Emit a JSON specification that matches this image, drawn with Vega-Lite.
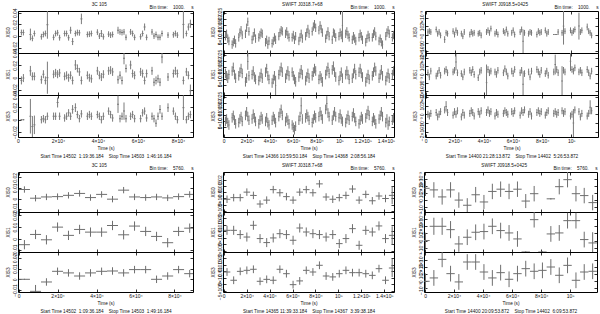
{
"$schema":"https://vega.github.io/schema/vega-lite/v6.json",
"padding":{"left":4,"top":2,"right":0,"bottom":0},
"background":"white",
"config":{
"font":"Liberation Sans",
"view":{"stroke":"#000","strokeWidth":1},
"axis":{"grid":false,"domain":false,"tickColor":"#000","tickSize":-3,"tickWidth":0.8,"labelFontSize":5,"labelColor":"#111","labelPadding":4,"titleFontSize":4.7,"titleFontWeight":"normal","titleColor":"#111","titlePadding":2,"labelOverlap":false,"labelFlush":false},
"axisY":{"labelAngle":-90,"labelAlign":"center","labelBaseline":"bottom"},
"title":{"fontSize":4.7,"fontWeight":"normal","color":"#111","offset":-3,"anchor":"middle"}
},
"datasets":{
"a0":[{"t":1.7,"y":0.0061,"e":0.005},{"t":2.7,"y":0.0061,"e":0.005},{"t":6.2,"y":0.0028,"e":0.01},{"t":7.2,"y":-0.0039,"e":0.005},{"t":8.2,"y":0.0044,"e":0.005},{"t":11.7,"y":-0.0011,"e":0.005},{"t":12.7,"y":0.0028,"e":0.005},{"t":13.7,"y":0.0044,"e":0.005},{"t":14.7,"y":0.0195,"e":0.024},{"t":17.8,"y":-0.0022,"e":0.005},{"t":18.8,"y":0.0044,"e":0.005},{"t":19.8,"y":0.0056,"e":0.005},{"t":20.8,"y":-0.0028,"e":0.005},{"t":23.3,"y":0.0044,"e":0.005},{"t":24.3,"y":0.0044,"e":0.005},{"t":25.3,"y":-0.0028,"e":0.005},{"t":26.3,"y":0.01,"e":0.006},{"t":27.3,"y":-0.0094,"e":0.006},{"t":28.7,"y":0.0044,"e":0.005},{"t":29.7,"y":0.0061,"e":0.005},{"t":30.7,"y":0.0056,"e":0.005},{"t":31.7,"y":0.0295,"e":0.009},{"t":34.7,"y":0.0028,"e":0.005},{"t":35.7,"y":0.0033,"e":0.005},{"t":36.7,"y":0.0044,"e":0.005},{"t":39.7,"y":0.0067,"e":0.005},{"t":40.7,"y":0,"e":0.005},{"t":41.7,"y":0.0044,"e":0.006},{"t":42.7,"y":-0.0011,"e":0.005},{"t":45.3,"y":0.0033,"e":0.005},{"t":46.3,"y":0.0017,"e":0.005},{"t":47.3,"y":0.0028,"e":0.005},{"t":50,"y":0.01,"e":0.006},{"t":51,"y":0.0072,"e":0.005},{"t":52,"y":0.0061,"e":0.005},{"t":53,"y":0.0072,"e":0.005},{"t":54,"y":-0.0022,"e":0.005},{"t":56.3,"y":0.0072,"e":0.005},{"t":57.3,"y":0.0044,"e":0.005},{"t":58.3,"y":-0.0022,"e":0.005},{"t":61.3,"y":-0.0011,"e":0.005},{"t":62.3,"y":0.0044,"e":0.005},{"t":63.3,"y":0.0156,"e":0.006},{"t":64.3,"y":-0.0022,"e":0.005},{"t":67,"y":0.0072,"e":0.005},{"t":68,"y":0,"e":0.005},{"t":69,"y":0.0028,"e":0.005},{"t":70,"y":-0.0022,"e":0.005},{"t":71,"y":-0.0022,"e":0.005},{"t":72,"y":0.0044,"e":0.005},{"t":75,"y":0.0017,"e":0.005},{"t":77.7,"y":0.0022,"e":0.005},{"t":78.7,"y":0.0044,"e":0.005},{"t":79.7,"y":0.0017,"e":0.005},{"t":82.7,"y":0.02,"e":0.024},{"t":84.2,"y":0.0044,"e":0.005},{"t":85.2,"y":0.0156,"e":0.006},{"t":86.2,"y":0.0211,"e":0.007}],
"a1":[{"t":1.7,"y":-0.0044,"e":0.0065},{"t":2.7,"y":-0.0006,"e":0.0065},{"t":6.2,"y":0.0111,"e":0.008},{"t":7.2,"y":0.0022,"e":0.0065},{"t":8.2,"y":0.0022,"e":0.0065},{"t":11.7,"y":-0.0033,"e":0.0065},{"t":12.7,"y":0.0056,"e":0.0065},{"t":13.7,"y":-0.0044,"e":0.0065},{"t":14.7,"y":0,"e":0.026},{"t":17.8,"y":0.0056,"e":0.0065},{"t":18.8,"y":0.0078,"e":0.0065},{"t":19.8,"y":0.0056,"e":0.0065},{"t":20.8,"y":0.0078,"e":0.0065},{"t":23.3,"y":0.0022,"e":0.0065},{"t":24.3,"y":0.0039,"e":0.0065},{"t":25.3,"y":0,"e":0.0065},{"t":26.3,"y":0.0039,"e":0.0065},{"t":27.3,"y":-0.0044,"e":0.0065},{"t":28.7,"y":0.0206,"e":0.008},{"t":29.7,"y":0.015,"e":0.0065},{"t":30.7,"y":0.0094,"e":0.0065},{"t":31.7,"y":-0.0044,"e":0.0065},{"t":34.7,"y":0.0039,"e":0.0065},{"t":35.7,"y":0,"e":0.0065},{"t":36.7,"y":-0.0017,"e":0.0065},{"t":39.7,"y":0.0111,"e":0.0065},{"t":40.7,"y":0.0039,"e":0.0065},{"t":41.7,"y":0.0011,"e":0.0065},{"t":42.7,"y":0.0056,"e":0.0065},{"t":45.3,"y":0.0111,"e":0.0065},{"t":46.3,"y":0.0122,"e":0.0065},{"t":47.3,"y":0.0094,"e":0.0065},{"t":50,"y":-0.0033,"e":0.0065},{"t":51,"y":0.0039,"e":0.0065},{"t":52,"y":-0.0044,"e":0.0065},{"t":53,"y":0.0317,"e":0.01},{"t":54,"y":0.015,"e":0.0065},{"t":56.3,"y":0.0206,"e":0.007},{"t":57.3,"y":0.0067,"e":0.0065},{"t":58.3,"y":0.0039,"e":0.0065},{"t":61.3,"y":0.0094,"e":0.0065},{"t":62.3,"y":0.0067,"e":0.0065},{"t":63.3,"y":-0.0044,"e":0.0065},{"t":64.3,"y":0.0067,"e":0.0065},{"t":67,"y":0.0111,"e":0.0065},{"t":68,"y":-0.0072,"e":0.0065},{"t":69,"y":-0.0044,"e":0.0065},{"t":70,"y":-0.0017,"e":0.0065},{"t":71,"y":-0.0072,"e":0.0065},{"t":72,"y":0.0334,"e":0.01},{"t":75,"y":0.0011,"e":0.0065},{"t":77.7,"y":0.0067,"e":0.0065},{"t":78.7,"y":0.0111,"e":0.0065},{"t":79.7,"y":0.0067,"e":0.0065},{"t":82.7,"y":-0.0044,"e":0.0065},{"t":84.2,"y":0.0094,"e":0.0065},{"t":85.2,"y":0.0039,"e":0.0065},{"t":86.2,"y":-0.0211,"e":0.01}],
"a3":[{"t":1.7,"y":0,"e":0.001},{"t":2.7,"y":0,"e":0.001},{"t":6.2,"y":0.0056,"e":0.028},{"t":7.2,"y":-0.0111,"e":0.017},{"t":8.2,"y":-0.0083,"e":0.015},{"t":11.7,"y":0,"e":0.006},{"t":12.7,"y":0.0017,"e":0.006},{"t":13.7,"y":0,"e":0.006},{"t":14.7,"y":0.0056,"e":0.006},{"t":17.8,"y":0.0056,"e":0.006},{"t":18.8,"y":0.0056,"e":0.006},{"t":19.8,"y":0.0278,"e":0.008},{"t":20.8,"y":0.0056,"e":0.006},{"t":23.3,"y":0.0028,"e":0.006},{"t":24.3,"y":0.0056,"e":0.006},{"t":25.3,"y":0.0111,"e":0.006},{"t":26.3,"y":0.0056,"e":0.006},{"t":27.3,"y":0.0167,"e":0.007},{"t":28.7,"y":0.0195,"e":0.007},{"t":29.7,"y":0.0083,"e":0.006},{"t":30.7,"y":0.0017,"e":0.006},{"t":31.7,"y":0.0095,"e":0.006},{"t":34.7,"y":0.0056,"e":0.006},{"t":35.7,"y":0.0083,"e":0.006},{"t":36.7,"y":0.0056,"e":0.006},{"t":39.7,"y":0.0083,"e":0.006},{"t":40.7,"y":0.0056,"e":0.006},{"t":41.7,"y":0,"e":0.006},{"t":42.7,"y":0.0056,"e":0.006},{"t":45.3,"y":0.0139,"e":0.006},{"t":46.3,"y":0.0083,"e":0.006},{"t":47.3,"y":0.0028,"e":0.006},{"t":50,"y":0.025,"e":0.014},{"t":51,"y":0.0017,"e":0.006},{"t":52,"y":0.0056,"e":0.006},{"t":53,"y":0.0139,"e":0.014},{"t":54,"y":0.0017,"e":0.006},{"t":56.3,"y":0.0056,"e":0.006},{"t":57.3,"y":0.0083,"e":0.006},{"t":58.3,"y":0.0017,"e":0.006},{"t":61.3,"y":0.0017,"e":0.006},{"t":62.3,"y":0.0111,"e":0.006},{"t":63.3,"y":0.0139,"e":0.006},{"t":64.3,"y":0.0028,"e":0.006},{"t":67,"y":0.0056,"e":0.006},{"t":68,"y":0.0017,"e":0.006},{"t":69,"y":-0.0056,"e":0.006},{"t":70,"y":0.0056,"e":0.006},{"t":71,"y":0.0167,"e":0.007},{"t":72,"y":0.0056,"e":0.006},{"t":75,"y":0.0195,"e":0.007},{"t":77.7,"y":0.0139,"e":0.006},{"t":78.7,"y":0.0056,"e":0.006},{"t":79.7,"y":0,"e":0.006},{"t":82.7,"y":0.0195,"e":0.02},{"t":84.2,"y":0,"e":0.006},{"t":85.2,"y":0.0056,"e":0.006},{"t":86.2,"y":0.0083,"e":0.006}],
"b0":[{"t":1.5,"y":0.006,"e":0.0035},{"t":2.5,"y":0.008,"e":0.0035},{"t":3.5,"y":0.004,"e":0.0035},{"t":4.5,"y":0.002,"e":0.0035},{"t":7.3,"y":-0.001,"e":0.0035},{"t":8.3,"y":0.001,"e":0.0035},{"t":9.3,"y":0.003,"e":0.0035},{"t":10.3,"y":0,"e":0.0035},{"t":13,"y":0.005,"e":0.0035},{"t":14,"y":0.009,"e":0.0035},{"t":15,"y":0.011,"e":0.0035},{"t":16,"y":0.007,"e":0.0035},{"t":18.8,"y":0.008,"e":0.0035},{"t":19.8,"y":0.013,"e":0.0035},{"t":20.8,"y":0.018,"e":0.0035},{"t":21.8,"y":0.01,"e":0.0035},{"t":24.5,"y":0.003,"e":0.0035},{"t":25.5,"y":0.006,"e":0.0035},{"t":26.5,"y":0.009,"e":0.0035},{"t":27.5,"y":0.004,"e":0.0035},{"t":30.3,"y":0.005,"e":0.0035},{"t":31.3,"y":0.007,"e":0.0035},{"t":32.3,"y":0.009,"e":0.0035},{"t":33.3,"y":0.008,"e":0.0035},{"t":36.1,"y":0.001,"e":0.0035},{"t":37.1,"y":0.003,"e":0.0035},{"t":38.1,"y":-0.001,"e":0.0035},{"t":39.1,"y":0.002,"e":0.0035},{"t":41.8,"y":0,"e":0.0035},{"t":42.8,"y":0.002,"e":0.0035},{"t":43.8,"y":0.005,"e":0.0035},{"t":44.8,"y":0.003,"e":0.0035},{"t":47.6,"y":0.006,"e":0.0035},{"t":48.6,"y":0.009,"e":0.0035},{"t":49.6,"y":0.011,"e":0.0035},{"t":50.6,"y":0.01,"e":0.0035},{"t":53.4,"y":0.008,"e":0.0035},{"t":54.4,"y":0.01,"e":0.0035},{"t":55.4,"y":0.007,"e":0.0035},{"t":56.4,"y":0.005,"e":0.0035},{"t":59.1,"y":0.005,"e":0.0035},{"t":60.1,"y":0.007,"e":0.0035},{"t":61.1,"y":0.003,"e":0.0035},{"t":62.1,"y":0.006,"e":0.0035},{"t":64.9,"y":0.002,"e":0.0035},{"t":65.9,"y":0.005,"e":0.0035},{"t":66.9,"y":0.008,"e":0.0035},{"t":67.9,"y":0.004,"e":0.0035},{"t":70.7,"y":0.006,"e":0.0035},{"t":71.7,"y":0.009,"e":0.0035},{"t":72.7,"y":0.012,"e":0.0035},{"t":73.7,"y":0.008,"e":0.0035},{"t":76.4,"y":0.01,"e":0.0035},{"t":77.4,"y":0.014,"e":0.0035},{"t":78.4,"y":0.016,"e":0.0035},{"t":79.4,"y":0.013,"e":0.0035},{"t":82.2,"y":0.011,"e":0.0035},{"t":83.2,"y":0.015,"e":0.0035},{"t":84.2,"y":0.012,"e":0.0035},{"t":85.2,"y":0.009,"e":0.0035},{"t":88,"y":0.004,"e":0.0035},{"t":89,"y":0.007,"e":0.0035},{"t":90,"y":0.01,"e":0.0035},{"t":91,"y":0.006,"e":0.0035},{"t":93.7,"y":0.003,"e":0.0035},{"t":94.7,"y":0.009,"e":0.0035},{"t":95.7,"y":0.008,"e":0.0035},{"t":96.7,"y":0.005,"e":0.0035},{"t":99.5,"y":0.006,"e":0.0035},{"t":100.5,"y":0.009,"e":0.0035},{"t":101.5,"y":0.007,"e":0.0035},{"t":102.5,"y":0.015,"e":0.014},{"t":105.3,"y":0.008,"e":0.0035},{"t":106.3,"y":0.01,"e":0.0035},{"t":107.3,"y":0.007,"e":0.0035},{"t":108.3,"y":0.005,"e":0.0035},{"t":111,"y":0.003,"e":0.0035},{"t":112,"y":0.006,"e":0.0035},{"t":113,"y":0.004,"e":0.0035},{"t":114,"y":0.002,"e":0.0035},{"t":116.8,"y":0.005,"e":0.0035},{"t":117.8,"y":0.008,"e":0.0035},{"t":118.8,"y":0.006,"e":0.0035},{"t":119.8,"y":0.003,"e":0.0035},{"t":122.6,"y":0.001,"e":0.0035},{"t":123.6,"y":0.004,"e":0.0035},{"t":124.6,"y":0.007,"e":0.0035},{"t":125.6,"y":0.005,"e":0.0035},{"t":128.3,"y":0.005,"e":0.0035},{"t":129.3,"y":0.008,"e":0.0035},{"t":130.3,"y":0.01,"e":0.0035},{"t":131.3,"y":0.006,"e":0.0035},{"t":134.1,"y":0.002,"e":0.0035},{"t":135.1,"y":0.004,"e":0.0035},{"t":136.1,"y":0.001,"e":0.0035},{"t":137.1,"y":-0.001,"e":0.0035},{"t":139.9,"y":0.006,"e":0.0035},{"t":140.9,"y":0.009,"e":0.0035},{"t":141.9,"y":0.011,"e":0.0035},{"t":142.9,"y":0.008,"e":0.0035},{"t":145.6,"y":0.005,"e":0.0035},{"t":146.6,"y":0.007,"e":0.0035}],
"b1":[{"t":1.5,"y":0.01,"e":0.004},{"t":2.5,"y":0.008,"e":0.004},{"t":3.5,"y":0.006,"e":0.004},{"t":4.5,"y":0.009,"e":0.004},{"t":7.3,"y":0.012,"e":0.004},{"t":8.3,"y":0.015,"e":0.004},{"t":9.3,"y":0.009,"e":0.004},{"t":10.3,"y":0.006,"e":0.004},{"t":13,"y":0.008,"e":0.004},{"t":14,"y":0.011,"e":0.004},{"t":15,"y":0.014,"e":0.004},{"t":16,"y":0.01,"e":0.004},{"t":18.8,"y":0.003,"e":0.004},{"t":19.8,"y":0.006,"e":0.004},{"t":20.8,"y":0.02,"e":0.007},{"t":21.8,"y":0.008,"e":0.004},{"t":24.5,"y":0.009,"e":0.004},{"t":25.5,"y":0.012,"e":0.004},{"t":26.5,"y":0.007,"e":0.004},{"t":27.5,"y":0.005,"e":0.004},{"t":30.3,"y":0.004,"e":0.004},{"t":31.3,"y":0.007,"e":0.004},{"t":32.3,"y":0.01,"e":0.004},{"t":33.3,"y":0.006,"e":0.004},{"t":36.1,"y":0.011,"e":0.004},{"t":37.1,"y":0.014,"e":0.004},{"t":38.1,"y":0.008,"e":0.004},{"t":39.1,"y":0.005,"e":0.004},{"t":41.8,"y":0.002,"e":0.004},{"t":42.8,"y":0.005,"e":0.004},{"t":43.8,"y":0.008,"e":0.004},{"t":44.8,"y":0,"e":0.008},{"t":47.6,"y":0.009,"e":0.004},{"t":48.6,"y":0.012,"e":0.004},{"t":49.6,"y":0.015,"e":0.004},{"t":50.6,"y":0.011,"e":0.004},{"t":53.4,"y":0.006,"e":0.004},{"t":54.4,"y":0.009,"e":0.004},{"t":55.4,"y":0.012,"e":0.004},{"t":56.4,"y":0.008,"e":0.004},{"t":59.1,"y":0.011,"e":0.004},{"t":60.1,"y":0.008,"e":0.004},{"t":61.1,"y":0.005,"e":0.004},{"t":62.1,"y":0.003,"e":0.004},{"t":64.9,"y":0.007,"e":0.004},{"t":65.9,"y":0.01,"e":0.004},{"t":66.9,"y":0.013,"e":0.004},{"t":67.9,"y":0.009,"e":0.004},{"t":70.7,"y":0.004,"e":0.004},{"t":71.7,"y":0.007,"e":0.004},{"t":72.7,"y":0.01,"e":0.004},{"t":73.7,"y":0.006,"e":0.004},{"t":76.4,"y":0.008,"e":0.004},{"t":77.4,"y":0.011,"e":0.004},{"t":78.4,"y":0.014,"e":0.004},{"t":79.4,"y":0.012,"e":0.004},{"t":82.2,"y":0.005,"e":0.004},{"t":83.2,"y":0.008,"e":0.004},{"t":84.2,"y":0.006,"e":0.004},{"t":85.2,"y":0.003,"e":0.004},{"t":88,"y":0.009,"e":0.004},{"t":89,"y":0.012,"e":0.004},{"t":90,"y":0.015,"e":0.004},{"t":91,"y":0.01,"e":0.004},{"t":93.7,"y":0.013,"e":0.004},{"t":94.7,"y":0.016,"e":0.004},{"t":95.7,"y":0.011,"e":0.004},{"t":96.7,"y":0.007,"e":0.004},{"t":99.5,"y":0.004,"e":0.004},{"t":100.5,"y":0.008,"e":0.004},{"t":101.5,"y":0.011,"e":0.004},{"t":102.5,"y":0.006,"e":0.004},{"t":105.3,"y":0.009,"e":0.004},{"t":106.3,"y":0.012,"e":0.004},{"t":107.3,"y":0.009,"e":0.004},{"t":108.3,"y":0.005,"e":0.004},{"t":111,"y":0.006,"e":0.004},{"t":112,"y":0.01,"e":0.004},{"t":113,"y":0.014,"e":0.004},{"t":114,"y":0.009,"e":0.004},{"t":116.8,"y":0.011,"e":0.004},{"t":117.8,"y":0.014,"e":0.004},{"t":118.8,"y":0.01,"e":0.004},{"t":119.8,"y":0.007,"e":0.004},{"t":122.6,"y":0.003,"e":0.004},{"t":123.6,"y":0.006,"e":0.004},{"t":124.6,"y":0.009,"e":0.004},{"t":125.6,"y":0.005,"e":0.004},{"t":128.3,"y":0.008,"e":0.004},{"t":129.3,"y":0.011,"e":0.004},{"t":130.3,"y":0.015,"e":0.004},{"t":131.3,"y":0.012,"e":0.004},{"t":134.1,"y":0.006,"e":0.004},{"t":135.1,"y":0.009,"e":0.004},{"t":136.1,"y":0.013,"e":0.004},{"t":137.1,"y":0.008,"e":0.004},{"t":139.9,"y":0.004,"e":0.004},{"t":140.9,"y":0.007,"e":0.004},{"t":141.9,"y":0.01,"e":0.004},{"t":142.9,"y":0.006,"e":0.004},{"t":145.6,"y":0.009,"e":0.004},{"t":146.6,"y":0.012,"e":0.004}],
"b3":[{"t":1.5,"y":0.005,"e":0.004},{"t":2.5,"y":0.007,"e":0.004},{"t":3.5,"y":0.004,"e":0.004},{"t":4.5,"y":0.002,"e":0.004},{"t":7.3,"y":0.008,"e":0.004},{"t":8.3,"y":0.01,"e":0.004},{"t":9.3,"y":0.006,"e":0.004},{"t":10.3,"y":0.003,"e":0.004},{"t":13,"y":0.004,"e":0.004},{"t":14,"y":0.007,"e":0.004},{"t":15,"y":0.009,"e":0.004},{"t":16,"y":0.005,"e":0.004},{"t":18.8,"y":0.01,"e":0.004},{"t":19.8,"y":0.013,"e":0.004},{"t":20.8,"y":0.009,"e":0.004},{"t":21.8,"y":0.006,"e":0.004},{"t":24.5,"y":0.007,"e":0.004},{"t":25.5,"y":0.011,"e":0.004},{"t":26.5,"y":0.008,"e":0.004},{"t":27.5,"y":0.005,"e":0.004},{"t":30.3,"y":0.003,"e":0.004},{"t":31.3,"y":0.006,"e":0.004},{"t":32.3,"y":0.009,"e":0.004},{"t":33.3,"y":0.007,"e":0.004},{"t":36.1,"y":0.005,"e":0.004},{"t":37.1,"y":0.008,"e":0.004},{"t":38.1,"y":0.004,"e":0.004},{"t":39.1,"y":0.002,"e":0.004},{"t":41.8,"y":0.006,"e":0.004},{"t":42.8,"y":0.009,"e":0.004},{"t":43.8,"y":0.007,"e":0.004},{"t":44.8,"y":0.004,"e":0.004},{"t":47.6,"y":0.009,"e":0.004},{"t":48.6,"y":0.012,"e":0.004},{"t":49.6,"y":0.015,"e":0.004},{"t":50.6,"y":0.01,"e":0.004},{"t":53.4,"y":0.005,"e":0.004},{"t":54.4,"y":0.008,"e":0.004},{"t":55.4,"y":0.006,"e":0.004},{"t":56.4,"y":0.003,"e":0.004},{"t":59.1,"y":0.002,"e":0.004},{"t":60.1,"y":0,"e":0.004},{"t":61.1,"y":-0.002,"e":0.004},{"t":62.1,"y":0.001,"e":0.004},{"t":64.9,"y":0.006,"e":0.004},{"t":65.9,"y":0.009,"e":0.004},{"t":66.9,"y":0.018,"e":0.007},{"t":67.9,"y":0.007,"e":0.004},{"t":70.7,"y":0.008,"e":0.004},{"t":71.7,"y":0.011,"e":0.004},{"t":72.7,"y":0.009,"e":0.004},{"t":73.7,"y":0.006,"e":0.004},{"t":76.4,"y":0.004,"e":0.004},{"t":77.4,"y":0.007,"e":0.004},{"t":78.4,"y":0.01,"e":0.004},{"t":79.4,"y":0.008,"e":0.004},{"t":82.2,"y":0.009,"e":0.004},{"t":83.2,"y":0.013,"e":0.004},{"t":84.2,"y":0.01,"e":0.004},{"t":85.2,"y":0.007,"e":0.004},{"t":88,"y":0.015,"e":0.004},{"t":89,"y":0.02,"e":0.006},{"t":90,"y":0.012,"e":0.004},{"t":91,"y":0.009,"e":0.004},{"t":93.7,"y":0.006,"e":0.004},{"t":94.7,"y":0.01,"e":0.004},{"t":95.7,"y":0.013,"e":0.004},{"t":96.7,"y":0.009,"e":0.004},{"t":99.5,"y":0.008,"e":0.004},{"t":100.5,"y":0.011,"e":0.004},{"t":101.5,"y":0.007,"e":0.004},{"t":102.5,"y":0.005,"e":0.004},{"t":105.3,"y":0.004,"e":0.004},{"t":106.3,"y":0.007,"e":0.004},{"t":107.3,"y":0.01,"e":0.004},{"t":108.3,"y":0.006,"e":0.004},{"t":111,"y":0.009,"e":0.004},{"t":112,"y":0.012,"e":0.004},{"t":113,"y":0.008,"e":0.004},{"t":114,"y":0.005,"e":0.004},{"t":116.8,"y":0.003,"e":0.004},{"t":117.8,"y":0.006,"e":0.004},{"t":118.8,"y":0.009,"e":0.004},{"t":119.8,"y":0.007,"e":0.004},{"t":122.6,"y":0.008,"e":0.004},{"t":123.6,"y":0.011,"e":0.004},{"t":124.6,"y":0.014,"e":0.004},{"t":125.6,"y":0.01,"e":0.004},{"t":128.3,"y":0.005,"e":0.004},{"t":129.3,"y":0.008,"e":0.004},{"t":130.3,"y":0.006,"e":0.004},{"t":131.3,"y":0.003,"e":0.004},{"t":134.1,"y":0.007,"e":0.004},{"t":135.1,"y":0.01,"e":0.004},{"t":136.1,"y":0.013,"e":0.004},{"t":137.1,"y":0.009,"e":0.004},{"t":139.9,"y":0.004,"e":0.004},{"t":140.9,"y":0.007,"e":0.004},{"t":141.9,"y":0.002,"e":0.004},{"t":142.9,"y":0.005,"e":0.004},{"t":145.6,"y":0.006,"e":0.004},{"t":146.6,"y":0.008,"e":0.004}],
"c0":[{"t":1.5,"y":0.0003,"e":0.00035},{"t":2.5,"y":0.0004,"e":0.00035},{"t":3.5,"y":0.0003,"e":0.00035},{"t":7.2,"y":0.0006,"e":0.00035},{"t":8.2,"y":0.0001,"e":0.00035},{"t":9.2,"y":0.0003,"e":0.00035},{"t":10.2,"y":-0.0001,"e":0.00035},{"t":13,"y":-0.0006,"e":0.0004},{"t":14,"y":0.0002,"e":0.00035},{"t":15,"y":0.0001,"e":0.00035},{"t":18.8,"y":0.0004,"e":0.00035},{"t":19.8,"y":0,"e":0.00035},{"t":20.8,"y":0.0005,"e":0.00035},{"t":21.8,"y":0.0002,"e":0.00035},{"t":24.5,"y":0.0001,"e":0.00035},{"t":25.5,"y":-0.0002,"e":0.00035},{"t":26.5,"y":0.0003,"e":0.00035},{"t":30.3,"y":0,"e":0.00035},{"t":31.3,"y":0.0003,"e":0.00035},{"t":32.3,"y":0.0001,"e":0.00035},{"t":33.3,"y":0.0002,"e":0.00035},{"t":36.1,"y":0.0001,"e":0.00035},{"t":37.1,"y":0.0002,"e":0.00035},{"t":38.1,"y":-0.0001,"e":0.00035},{"t":41.8,"y":0.0003,"e":0.00035},{"t":42.8,"y":0.0005,"e":0.00035},{"t":43.8,"y":0.0002,"e":0.00035},{"t":44.8,"y":0.0007,"e":0.00035},{"t":47.6,"y":0.0001,"e":0.00035},{"t":48.6,"y":0.0003,"e":0.00035},{"t":49.6,"y":0,"e":0.00035},{"t":53.4,"y":0.0004,"e":0.00035},{"t":54.4,"y":0.0002,"e":0.00035},{"t":55.4,"y":0.0006,"e":0.00035},{"t":56.4,"y":0.0001,"e":0.00035},{"t":59.1,"y":0.0002,"e":0.00035},{"t":60.1,"y":0.0005,"e":0.00035},{"t":61.1,"y":0,"e":0.00035},{"t":64.9,"y":0.0003,"e":0.00035},{"t":65.9,"y":0.0006,"e":0.00035},{"t":66.9,"y":-0.0008,"e":0.0014},{"t":67.9,"y":0.0002,"e":0.00035},{"t":70.7,"y":0.0001,"e":0.00035},{"t":71.7,"y":0.0003,"e":0.00035},{"t":72.7,"y":0.0002,"e":0.00035},{"t":76.4,"y":0,"e":0.00035},{"t":77.4,"y":0.0004,"e":0.00035},{"t":78.4,"y":0.0002,"e":0.00035},{"t":79.4,"y":0.0003,"e":0.00035},{"t":82.2,"y":0.0005,"e":0.00035},{"t":83.2,"y":0.0001,"e":0.00035},{"t":84.2,"y":0.0003,"e":0.00035},{"t":88,"y":0,"e":0.00002},{"t":89,"y":0,"e":0.00002},{"t":90,"y":0,"e":0.00002},{"t":91,"y":0.0003,"e":0.00035},{"t":93.7,"y":0.0002,"e":0.00035},{"t":94.7,"y":0.001,"e":0.0022},{"t":95.7,"y":0.0004,"e":0.00035},{"t":99.5,"y":0.0005,"e":0.00035},{"t":100.5,"y":0.0002,"e":0.00035},{"t":101.5,"y":0.0004,"e":0.00035},{"t":102.5,"y":0.0006,"e":0.00035},{"t":105.3,"y":0.001,"e":0.0016},{"t":106.3,"y":0.0003,"e":0.00035},{"t":107.3,"y":0.0005,"e":0.00035},{"t":111,"y":0.0009,"e":0.0004},{"t":112,"y":0.0004,"e":0.00035},{"t":113,"y":0.0002,"e":0.00035},{"t":114,"y":-0.0001,"e":0.00035}],
"c1":[{"t":1.5,"y":0.0002,"e":0.0004},{"t":2.5,"y":-0.0003,"e":0.0004},{"t":3.5,"y":0.0004,"e":0.0004},{"t":7.2,"y":-0.0002,"e":0.0004},{"t":8.2,"y":0.0001,"e":0.0004},{"t":9.2,"y":0.0005,"e":0.0004},{"t":10.2,"y":-0.0001,"e":0.0004},{"t":13,"y":0.0004,"e":0.0004},{"t":14,"y":0.0006,"e":0.0004},{"t":15,"y":0.0002,"e":0.0004},{"t":18.8,"y":0.0003,"e":0.0004},{"t":19.8,"y":0.0005,"e":0.0004},{"t":20.8,"y":0.0015,"e":0.001},{"t":21.8,"y":0.0002,"e":0.0004},{"t":24.5,"y":0.0001,"e":0.0004},{"t":25.5,"y":-0.0003,"e":0.0004},{"t":26.5,"y":0.0003,"e":0.0004},{"t":30.3,"y":0.0005,"e":0.0004},{"t":31.3,"y":0.0002,"e":0.0004},{"t":32.3,"y":0.0006,"e":0.0004},{"t":33.3,"y":0,"e":0.0004},{"t":36.1,"y":-0.0004,"e":0.0004},{"t":37.1,"y":0.0003,"e":0.0004},{"t":38.1,"y":0.0005,"e":0.0004},{"t":41.8,"y":-0.001,"e":0.0022},{"t":42.8,"y":0.0006,"e":0.0004},{"t":43.8,"y":0.0002,"e":0.0004},{"t":44.8,"y":0.0004,"e":0.0004},{"t":47.6,"y":0.0003,"e":0.0004},{"t":48.6,"y":0,"e":0.0004},{"t":49.6,"y":0.0005,"e":0.0004},{"t":53.4,"y":0.0002,"e":0.0004},{"t":54.4,"y":0.0007,"e":0.0004},{"t":55.4,"y":0.0003,"e":0.0004},{"t":56.4,"y":-0.0002,"e":0.0004},{"t":59.1,"y":0.0004,"e":0.0004},{"t":60.1,"y":0.0001,"e":0.0004},{"t":61.1,"y":0.0006,"e":0.0004},{"t":64.9,"y":0.0002,"e":0.0004},{"t":65.9,"y":0.0005,"e":0.0004},{"t":66.9,"y":-0.0012,"e":0.0016},{"t":67.9,"y":0.0001,"e":0.0004},{"t":70.7,"y":0.0003,"e":0.0004},{"t":71.7,"y":-0.0003,"e":0.0004},{"t":72.7,"y":0.0004,"e":0.0004},{"t":76.4,"y":0.0006,"e":0.0004},{"t":77.4,"y":0.0003,"e":0.0004},{"t":78.4,"y":0,"e":0.0004},{"t":79.4,"y":0.0005,"e":0.0004},{"t":82.2,"y":0.0001,"e":0.0004},{"t":83.2,"y":0.0004,"e":0.0004},{"t":84.2,"y":-0.0001,"e":0.0004},{"t":88,"y":0.0003,"e":0.0004},{"t":89,"y":0.0012,"e":0.0012},{"t":90,"y":0.0006,"e":0.0004},{"t":91,"y":0.0002,"e":0.0004},{"t":93.7,"y":-0.0008,"e":0.0018},{"t":94.7,"y":0.0005,"e":0.0004},{"t":95.7,"y":0.0003,"e":0.0004},{"t":99.5,"y":0.0016,"e":0.0012},{"t":100.5,"y":0.0006,"e":0.0004},{"t":101.5,"y":0.0004,"e":0.0004},{"t":102.5,"y":0.0008,"e":0.0004},{"t":105.3,"y":0.0003,"e":0.0004},{"t":106.3,"y":0.0005,"e":0.0004},{"t":107.3,"y":0.0002,"e":0.0004},{"t":111,"y":0.0006,"e":0.0004},{"t":112,"y":0.0002,"e":0.0004},{"t":113,"y":-0.0002,"e":0.0004},{"t":114,"y":0.0004,"e":0.0004}],
"c3":[{"t":1.5,"y":0,"e":0.0004},{"t":2.5,"y":-0.0002,"e":0.0004},{"t":3.5,"y":0.0001,"e":0.0004},{"t":7.2,"y":0.0002,"e":0.0004},{"t":8.2,"y":-0.0003,"e":0.0004},{"t":9.2,"y":0,"e":0.0004},{"t":10.2,"y":0.0003,"e":0.0004},{"t":13,"y":0.0005,"e":0.0004},{"t":14,"y":0.0009,"e":0.0006},{"t":15,"y":0.0002,"e":0.0004},{"t":18.8,"y":-0.0001,"e":0.0004},{"t":19.8,"y":0.0003,"e":0.0004},{"t":20.8,"y":0,"e":0.0004},{"t":21.8,"y":0.0004,"e":0.0004},{"t":24.5,"y":-0.0003,"e":0.0004},{"t":25.5,"y":0.0002,"e":0.0004},{"t":26.5,"y":-0.0001,"e":0.0004},{"t":30.3,"y":0.0001,"e":0.0004},{"t":31.3,"y":0.0004,"e":0.0004},{"t":32.3,"y":0.0002,"e":0.0004},{"t":33.3,"y":-0.0002,"e":0.0004},{"t":36.1,"y":0.0003,"e":0.0004},{"t":37.1,"y":0,"e":0.0004},{"t":38.1,"y":0.0004,"e":0.0004},{"t":41.8,"y":0.0002,"e":0.0004},{"t":42.8,"y":0.0005,"e":0.0004},{"t":43.8,"y":0.0001,"e":0.0004},{"t":44.8,"y":0.0003,"e":0.0004},{"t":47.6,"y":-0.0002,"e":0.0004},{"t":48.6,"y":0.0002,"e":0.0004},{"t":49.6,"y":0,"e":0.0004},{"t":53.4,"y":0.0001,"e":0.0004},{"t":54.4,"y":0.0004,"e":0.0004},{"t":55.4,"y":0.0002,"e":0.0004},{"t":56.4,"y":0,"e":0.0004},{"t":59.1,"y":0.0003,"e":0.0004},{"t":60.1,"y":0.0001,"e":0.0004},{"t":61.1,"y":0.0004,"e":0.0004},{"t":64.9,"y":-0.0001,"e":0.0004},{"t":65.9,"y":0.0004,"e":0.0004},{"t":66.9,"y":0.0002,"e":0.0004},{"t":67.9,"y":0.0005,"e":0.0004},{"t":70.7,"y":0,"e":0.0004},{"t":71.7,"y":0.0003,"e":0.0004},{"t":72.7,"y":-0.0002,"e":0.0004},{"t":76.4,"y":0.0002,"e":0.0004},{"t":77.4,"y":0.0004,"e":0.0004},{"t":78.4,"y":0.0001,"e":0.0004},{"t":79.4,"y":0.0003,"e":0.0004},{"t":82.2,"y":-0.0001,"e":0.0004},{"t":83.2,"y":0.0002,"e":0.0004},{"t":84.2,"y":0.0004,"e":0.0004},{"t":88,"y":0.0001,"e":0.0004},{"t":89,"y":0.0003,"e":0.0004},{"t":90,"y":0,"e":0.0004},{"t":91,"y":0.0002,"e":0.0004},{"t":93.7,"y":0.0004,"e":0.0004},{"t":94.7,"y":0.0001,"e":0.0004},{"t":95.7,"y":0.0003,"e":0.0004},{"t":99.5,"y":-0.0002,"e":0.0004},{"t":100.5,"y":0,"e":0.0004},{"t":101.5,"y":-0.001,"e":0.0016},{"t":102.5,"y":0.0005,"e":0.0004},{"t":105.3,"y":0.0003,"e":0.0004},{"t":106.3,"y":-0.0003,"e":0.0004},{"t":107.3,"y":0.0001,"e":0.0004},{"t":111,"y":-0.0002,"e":0.0004},{"t":112,"y":0.0001,"e":0.0004},{"t":113,"y":0.0008,"e":0.0008},{"t":114,"y":0.0004,"e":0.0004}],
"d0":[{"t":3,"y":0.0085,"e":0.003},{"t":8.7,"y":0.0003,"e":0.003},{"t":14.3,"y":0.0015,"e":0.003},{"t":20,"y":0.0018,"e":0.003},{"t":25.6,"y":0.003,"e":0.003},{"t":31.3,"y":0.0048,"e":0.003},{"t":36.9,"y":0.0009,"e":0.003},{"t":42.6,"y":0.0039,"e":0.003},{"t":48.2,"y":-0.0006,"e":0.003},{"t":53.9,"y":0.0079,"e":0.003},{"t":59.5,"y":0.0015,"e":0.003},{"t":65.2,"y":0.0009,"e":0.003},{"t":70.8,"y":0.0015,"e":0.003},{"t":76.5,"y":0.0006,"e":0.003},{"t":82.1,"y":0.0018,"e":0.003},{"t":87.8,"y":0.0039,"e":0.003}],
"d1":[{"t":3,"y":-0.0051,"e":0.004},{"t":8.7,"y":0.0037,"e":0.004},{"t":14.3,"y":-0.0009,"e":0.004},{"t":20,"y":0.01,"e":0.004},{"t":25.6,"y":0.0029,"e":0.004},{"t":31.3,"y":0.008,"e":0.004},{"t":36.9,"y":0.0057,"e":0.004},{"t":42.6,"y":0.0057,"e":0.004},{"t":48.2,"y":0.0114,"e":0.004},{"t":53.9,"y":0.0034,"e":0.004},{"t":59.5,"y":0.0109,"e":0.004},{"t":65.2,"y":0.0063,"e":0.004},{"t":70.8,"y":0.002,"e":0.004},{"t":76.5,"y":-0.0034,"e":0.004},{"t":82.1,"y":0.0063,"e":0.004},{"t":87.8,"y":0.0091,"e":0.004}],
"d3":[{"t":3,"y":0,"e":0.0005},{"t":8.7,"y":-0.0113,"e":0.006},{"t":14.3,"y":-0.0025,"e":0.0035},{"t":20,"y":0.0075,"e":0.0035},{"t":25.6,"y":0.006,"e":0.0035},{"t":31.3,"y":0.0031,"e":0.0035},{"t":36.9,"y":0.006,"e":0.0035},{"t":42.6,"y":0.0075,"e":0.0035},{"t":48.2,"y":0.0078,"e":0.0035},{"t":53.9,"y":0.006,"e":0.0035},{"t":59.5,"y":0.0091,"e":0.0035},{"t":65.2,"y":0.0091,"e":0.0035},{"t":70.8,"y":0,"e":0.0035},{"t":76.5,"y":0.0031,"e":0.0035},{"t":82.1,"y":0.0091,"e":0.0035},{"t":87.8,"y":0.0053,"e":0.0035}],
"e0":[{"t":2.9,"y":0.0042,"e":0.003},{"t":8.7,"y":0.0055,"e":0.003},{"t":14.4,"y":0.0055,"e":0.003},{"t":20.2,"y":0.0099,"e":0.003},{"t":25.9,"y":0.0073,"e":0.003},{"t":31.7,"y":0.0004,"e":0.003},{"t":37.5,"y":0.0035,"e":0.003},{"t":43.2,"y":0.0119,"e":0.003},{"t":49,"y":0.0094,"e":0.003},{"t":54.7,"y":0.0063,"e":0.003},{"t":60.5,"y":0.0035,"e":0.003},{"t":66.3,"y":0.0099,"e":0.003},{"t":72,"y":0.0119,"e":0.003},{"t":77.8,"y":0.0094,"e":0.003},{"t":83.5,"y":0.0165,"e":0.003},{"t":89.3,"y":0.006,"e":0.003},{"t":95.1,"y":0.0042,"e":0.003},{"t":100.8,"y":0.0055,"e":0.003},{"t":106.6,"y":0.0073,"e":0.003},{"t":112.3,"y":0.0124,"e":0.003},{"t":118.1,"y":0.0035,"e":0.003},{"t":123.9,"y":0.0081,"e":0.003},{"t":129.6,"y":0.003,"e":0.003},{"t":135.4,"y":0.0068,"e":0.003},{"t":141.1,"y":0.0048,"e":0.003},{"t":146.9,"y":0.0073,"e":0.007}],
"e1":[{"t":2.9,"y":0.0108,"e":0.0035},{"t":8.7,"y":0.0108,"e":0.0035},{"t":14.4,"y":0.0075,"e":0.0035},{"t":20.2,"y":0.0056,"e":0.0035},{"t":25.9,"y":0.0147,"e":0.0035},{"t":31.7,"y":0.0044,"e":0.0035},{"t":37.5,"y":0.0013,"e":0.0035},{"t":43.2,"y":0.0049,"e":0.0035},{"t":49,"y":0.0082,"e":0.0035},{"t":54.7,"y":0.0075,"e":0.0035},{"t":60.5,"y":0.0031,"e":0.0035},{"t":66.3,"y":0.0126,"e":0.0035},{"t":72,"y":0.0095,"e":0.0035},{"t":77.8,"y":0.0082,"e":0.0035},{"t":83.5,"y":0.0075,"e":0.0035},{"t":89.3,"y":0.0056,"e":0.0035},{"t":95.1,"y":0.0075,"e":0.0035},{"t":100.8,"y":0.0005,"e":0.0035},{"t":106.6,"y":0.0044,"e":0.0035},{"t":112.3,"y":0.0121,"e":0.0035},{"t":118.1,"y":-0.0008,"e":0.0035},{"t":123.9,"y":0.0108,"e":0.0035},{"t":129.6,"y":0.0095,"e":0.0035},{"t":135.4,"y":0.0142,"e":0.0035},{"t":141.1,"y":0.0044,"e":0.0035},{"t":146.9,"y":0.0069,"e":0.007}],
"e3":[{"t":2.9,"y":0.0095,"e":0.003},{"t":8.7,"y":0.0031,"e":0.003},{"t":14.4,"y":0.01,"e":0.003},{"t":20.2,"y":0.0108,"e":0.003},{"t":25.9,"y":0.0116,"e":0.003},{"t":31.7,"y":0.0023,"e":0.003},{"t":37.5,"y":0.0038,"e":0.003},{"t":43.2,"y":0.0031,"e":0.003},{"t":49,"y":0.0116,"e":0.003},{"t":54.7,"y":0.0082,"e":0.003},{"t":60.5,"y":-0.0003,"e":0.003},{"t":66.3,"y":0.0026,"e":0.003},{"t":72,"y":0.0108,"e":0.003},{"t":77.8,"y":0.0095,"e":0.003},{"t":83.5,"y":0.0147,"e":0.003},{"t":89.3,"y":0.0064,"e":0.003},{"t":95.1,"y":0.0057,"e":0.003},{"t":100.8,"y":0.0082,"e":0.003},{"t":106.6,"y":0.0108,"e":0.003},{"t":112.3,"y":0.009,"e":0.003},{"t":118.1,"y":0.009,"e":0.003},{"t":123.9,"y":0.0082,"e":0.003},{"t":129.6,"y":0.0069,"e":0.003},{"t":135.4,"y":0.0121,"e":0.003},{"t":141.1,"y":0.0031,"e":0.003},{"t":146.9,"y":0.0126,"e":0.007}],
"f0":[{"t":0.3,"y":0.00168,"e":0.0011},{"t":6.1,"y":0.00145,"e":0.0011},{"t":11.8,"y":0.00045,"e":0.0011},{"t":17.6,"y":0.00145,"e":0.0011},{"t":23.3,"y":0,"e":0.0011},{"t":29.1,"y":-0.00073,"e":0.001},{"t":34.9,"y":0.00077,"e":0.0011},{"t":40.6,"y":-0.00027,"e":0.001},{"t":46.4,"y":0.00123,"e":0.0011},{"t":52.1,"y":0.00155,"e":0.0011},{"t":57.9,"y":0.00123,"e":0.0011},{"t":63.7,"y":0.00155,"e":0.0011},{"t":69.4,"y":-0.00014,"e":0.001},{"t":75.2,"y":0.00091,"e":0.0011},{"t":86.7,"y":0.00018,"e":0.0001},{"t":92.5,"y":0.00191,"e":0.0011},{"t":98.2,"y":0.00291,"e":0.0011},{"t":104,"y":0.00091,"e":0.0011},{"t":109.7,"y":0.00064,"e":0.0011},{"t":115.5,"y":-0.00036,"e":0.0011}],
"f1":[{"t":0.3,"y":0,"e":0.0011},{"t":6.1,"y":0.002,"e":0.0012},{"t":11.8,"y":0.002,"e":0.0012},{"t":17.6,"y":0.00153,"e":0.0012},{"t":23.3,"y":-0.00047,"e":0.0011},{"t":29.1,"y":0.00047,"e":0.0011},{"t":34.9,"y":0.00116,"e":0.0011},{"t":40.6,"y":0.00126,"e":0.0011},{"t":46.4,"y":0.002,"e":0.0011},{"t":52.1,"y":0.0014,"e":0.0011},{"t":57.9,"y":0.00107,"e":0.0011},{"t":63.7,"y":0.00023,"e":0.0011},{"t":69.4,"y":-0.0016,"e":0.0001},{"t":75.2,"y":0.00293,"e":0.0011},{"t":80.9,"y":-0.0016,"e":0.0001},{"t":86.7,"y":0.00093,"e":0.0011},{"t":92.5,"y":0.00107,"e":0.0011},{"t":98.2,"y":0.00279,"e":0.0011},{"t":104,"y":0.00279,"e":0.0011},{"t":109.7,"y":0.00014,"e":0.0011},{"t":115.5,"y":-0.00033,"e":0.0015}],
"f3":[{"t":0.3,"y":0,"e":0.0011},{"t":6.1,"y":0.00047,"e":0.0011},{"t":11.8,"y":0.00307,"e":0.0011},{"t":17.6,"y":0.00107,"e":0.0011},{"t":23.3,"y":-0.00009,"e":0.0011},{"t":29.1,"y":0.0027,"e":0.0011},{"t":34.9,"y":0.0027,"e":0.0011},{"t":40.6,"y":0.0013,"e":0.0011},{"t":46.4,"y":0.00047,"e":0.0011},{"t":52.1,"y":0.00121,"e":0.0011},{"t":57.9,"y":0.00028,"e":0.0011},{"t":63.7,"y":0.00107,"e":0.0011},{"t":69.4,"y":0.00177,"e":0.0011},{"t":75.2,"y":0.0014,"e":0.0011},{"t":80.9,"y":0.00153,"e":0.0011},{"t":86.7,"y":0.002,"e":0.0011},{"t":92.5,"y":0.00084,"e":0.0011},{"t":98.2,"y":0.00223,"e":0.0011},{"t":104,"y":0.00014,"e":0.0011},{"t":109.7,"y":0.0013,"e":0.0011},{"t":115.5,"y":0.0014,"e":0.0011}]
},
"vconcat":[
{"hconcat":[
{"title":"3C 105","spacing":0,"bounds":"flush","vconcat":[
{"width":175,"height":42,"data":{"name":"a0"},"resolve":{"axis":{"x":"independent","y":"independent"}},"layer":[
{"mark":{"type":"errorbar","color":"#7a7a7a","thickness":1,"clip":true},"encoding":{"x":{"field":"t","type":"quantitative","scale":{"domain":[0,87.5],"nice":false,"zero":false},"axis":{"values":[0,20,40,60,80],"labels":false,"title":null}},"y":{"field":"y","type":"quantitative","scale":{"domain":[-0.029,0.043],"nice":false,"zero":false},"axis":{"values":[-0.02,0,0.02,0.04],"format":"~g","title":"XIS0"}},"yError":{"field":"e"}}},
{"mark":{"type":"tick","orient":"horizontal","size":2,"thickness":1,"opacity":1,"color":"#7a7a7a","clip":true},"encoding":{"x":{"field":"t","type":"quantitative","scale":{"domain":[0,87.5],"nice":false,"zero":false},"axis":{"orient":"top","values":[0,20,40,60,80],"labels":false,"title":"Bin time:\u00a0\u00a0\u00a0\u00a01000.\u00a0\u00a0\u00a0\u00a0\u00a0s","titleAnchor":"end","titlePadding":1}},"y":{"field":"y","type":"quantitative","scale":{"domain":[-0.029,0.043],"nice":false,"zero":false},"axis":{"orient":"right","values":[-0.02,0,0.02,0.04],"labels":false,"title":null}}}}]},
{"width":175,"height":42,"data":{"name":"a1"},"resolve":{"axis":{"x":"independent","y":"independent"}},"layer":[
{"mark":{"type":"errorbar","color":"#7a7a7a","thickness":1,"clip":true},"encoding":{"x":{"field":"t","type":"quantitative","scale":{"domain":[0,87.5],"nice":false,"zero":false},"axis":{"values":[0,20,40,60,80],"labels":false,"title":null}},"y":{"field":"y","type":"quantitative","scale":{"domain":[-0.028,0.04],"nice":false,"zero":false},"axis":{"values":[-0.02,0,0.02,0.04],"format":"~g","title":"XIS1"}},"yError":{"field":"e"}}},
{"mark":{"type":"tick","orient":"horizontal","size":2,"thickness":1,"opacity":1,"color":"#7a7a7a","clip":true},"encoding":{"x":{"field":"t","type":"quantitative","scale":{"domain":[0,87.5],"nice":false,"zero":false},"axis":{"orient":"top","values":[0,20,40,60,80],"labels":false,"title":null}},"y":{"field":"y","type":"quantitative","scale":{"domain":[-0.028,0.04],"nice":false,"zero":false},"axis":{"orient":"right","values":[-0.02,0,0.02,0.04],"labels":false,"title":null}}}}]},
{"width":175,"height":42,"data":{"name":"a3"},"resolve":{"axis":{"x":"independent","y":"independent"}},"layer":[
{"mark":{"type":"errorbar","color":"#7a7a7a","thickness":1,"clip":true},"encoding":{"x":{"field":"t","type":"quantitative","scale":{"domain":[0,87.5],"nice":false,"zero":false},"axis":{"values":[0,20,40,60,80],"labelExpr":"datum.value==0?'0':datum.value==100?'10⁵':datum.value>100?format(datum.value/100,'.1f')+'×10⁵':format(datum.value/10,'d')+'×10⁴'","title":["Time (s)","Start Time 14502\u00a0\u00a01:19:36.184\u00a0\u00a0\u00a0\u00a0Stop Time 14503\u00a0\u00a01:46:16.184"],"titleLineHeight":8}},"y":{"field":"y","type":"quantitative","scale":{"domain":[-0.028,0.04],"nice":false,"zero":false},"axis":{"values":[-0.02,0,0.02,0.04],"format":"~g","title":"XIS3"}},"yError":{"field":"e"}}},
{"mark":{"type":"tick","orient":"horizontal","size":2,"thickness":1,"opacity":1,"color":"#7a7a7a","clip":true},"encoding":{"x":{"field":"t","type":"quantitative","scale":{"domain":[0,87.5],"nice":false,"zero":false},"axis":{"orient":"top","values":[0,20,40,60,80],"labels":false,"title":null}},"y":{"field":"y","type":"quantitative","scale":{"domain":[-0.028,0.04],"nice":false,"zero":false},"axis":{"orient":"right","values":[-0.02,0,0.02,0.04],"labels":false,"title":null}}}}]}
]},
{"title":"SWIFT J0318.7+68","spacing":0,"bounds":"flush","vconcat":[
{"width":171,"height":42,"data":{"name":"b0"},"resolve":{"axis":{"x":"independent","y":"independent"}},"layer":[
{"mark":{"type":"errorbar","color":"#7a7a7a","thickness":1,"clip":true},"encoding":{"x":{"field":"t","type":"quantitative","scale":{"domain":[-0.6,147],"nice":false,"zero":false},"axis":{"values":[0,20,40,60,80,100,120,140],"labels":false,"title":null}},"y":{"field":"y","type":"quantitative","scale":{"domain":[-0.008,0.027],"nice":false,"zero":false},"axis":{"values":[0,0.005,0.01,0.015,0.02,0.025],"labelExpr":"abs(datum.value)==0.005?(datum.value<0?'−':'')+'5×10⁻³':format(datum.value,'~g')","title":"XIS0"}},"yError":{"field":"e"}}},
{"mark":{"type":"tick","orient":"horizontal","size":1.2,"thickness":1,"opacity":1,"color":"#7a7a7a","clip":true},"encoding":{"x":{"field":"t","type":"quantitative","scale":{"domain":[-0.6,147],"nice":false,"zero":false},"axis":{"orient":"top","values":[0,20,40,60,80,100,120,140],"labels":false,"title":"Bin time:\u00a0\u00a0\u00a0\u00a01000.\u00a0\u00a0\u00a0\u00a0\u00a0s","titleAnchor":"end","titlePadding":1}},"y":{"field":"y","type":"quantitative","scale":{"domain":[-0.008,0.027],"nice":false,"zero":false},"axis":{"orient":"right","values":[0,0.005,0.01,0.015,0.02,0.025],"labels":false,"title":null}}}}]},
{"width":171,"height":42,"data":{"name":"b1"},"resolve":{"axis":{"x":"independent","y":"independent"}},"layer":[
{"mark":{"type":"errorbar","color":"#7a7a7a","thickness":1,"clip":true},"encoding":{"x":{"field":"t","type":"quantitative","scale":{"domain":[-0.6,147],"nice":false,"zero":false},"axis":{"values":[0,20,40,60,80,100,120,140],"labels":false,"title":null}},"y":{"field":"y","type":"quantitative","scale":{"domain":[-0.008,0.027],"nice":false,"zero":false},"axis":{"values":[0,0.005,0.01,0.015,0.02,0.025],"labelExpr":"abs(datum.value)==0.005?(datum.value<0?'−':'')+'5×10⁻³':format(datum.value,'~g')","title":"XIS1"}},"yError":{"field":"e"}}},
{"mark":{"type":"tick","orient":"horizontal","size":1.2,"thickness":1,"opacity":1,"color":"#7a7a7a","clip":true},"encoding":{"x":{"field":"t","type":"quantitative","scale":{"domain":[-0.6,147],"nice":false,"zero":false},"axis":{"orient":"top","values":[0,20,40,60,80,100,120,140],"labels":false,"title":null}},"y":{"field":"y","type":"quantitative","scale":{"domain":[-0.008,0.027],"nice":false,"zero":false},"axis":{"orient":"right","values":[0,0.005,0.01,0.015,0.02,0.025],"labels":false,"title":null}}}}]},
{"width":171,"height":42,"data":{"name":"b3"},"resolve":{"axis":{"x":"independent","y":"independent"}},"layer":[
{"mark":{"type":"errorbar","color":"#7a7a7a","thickness":1,"clip":true},"encoding":{"x":{"field":"t","type":"quantitative","scale":{"domain":[-0.6,147],"nice":false,"zero":false},"axis":{"values":[0,20,40,60,80,100,120,140],"labelExpr":"datum.value==0?'0':datum.value==100?'10⁵':datum.value>100?format(datum.value/100,'.1f')+'×10⁵':format(datum.value/10,'d')+'×10⁴'","title":["Time (s)","Start Time 14366 10:59:50.184\u00a0\u00a0\u00a0\u00a0Stop Time 14368\u00a0\u00a02:08:56.184"],"titleLineHeight":8}},"y":{"field":"y","type":"quantitative","scale":{"domain":[-0.008,0.027],"nice":false,"zero":false},"axis":{"values":[0,0.005,0.01,0.015,0.02,0.025],"labelExpr":"abs(datum.value)==0.005?(datum.value<0?'−':'')+'5×10⁻³':format(datum.value,'~g')","title":"XIS3"}},"yError":{"field":"e"}}},
{"mark":{"type":"tick","orient":"horizontal","size":1.2,"thickness":1,"opacity":1,"color":"#7a7a7a","clip":true},"encoding":{"x":{"field":"t","type":"quantitative","scale":{"domain":[-0.6,147],"nice":false,"zero":false},"axis":{"orient":"top","values":[0,20,40,60,80,100,120,140],"labels":false,"title":null}},"y":{"field":"y","type":"quantitative","scale":{"domain":[-0.008,0.027],"nice":false,"zero":false},"axis":{"orient":"right","values":[0,0.005,0.01,0.015,0.02,0.025],"labels":false,"title":null}}}}]}
]},
{"title":"SWIFT J0918.5+0425","spacing":0,"bounds":"flush","vconcat":[
{"width":173,"height":42,"data":{"name":"c0"},"resolve":{"axis":{"x":"independent","y":"independent"}},"layer":[
{"mark":{"type":"errorbar","color":"#7a7a7a","thickness":1,"clip":true},"encoding":{"x":{"field":"t","type":"quantitative","scale":{"domain":[-0.5,118.4],"nice":false,"zero":false},"axis":{"values":[0,20,40,60,80,100],"labels":false,"title":null}},"y":{"field":"y","type":"quantitative","scale":{"domain":[-0.0022,0.0028],"nice":false,"zero":false},"axis":{"values":[-0.002,-0.001,0,0.001,0.002],"labelExpr":"datum.value==0?'0':(datum.value<0?'−':'')+(abs(datum.value)<0.0015?'':format(abs(datum.value)*1000,'.0f')+'×')+'10⁻³'","title":"XIS0"}},"yError":{"field":"e"}}},
{"mark":{"type":"tick","orient":"horizontal","size":1.5,"thickness":1,"opacity":1,"color":"#7a7a7a","clip":true},"encoding":{"x":{"field":"t","type":"quantitative","scale":{"domain":[-0.5,118.4],"nice":false,"zero":false},"axis":{"orient":"top","values":[0,20,40,60,80,100],"labels":false,"title":"Bin time:\u00a0\u00a0\u00a0\u00a01000.\u00a0\u00a0\u00a0\u00a0\u00a0s","titleAnchor":"end","titlePadding":1}},"y":{"field":"y","type":"quantitative","scale":{"domain":[-0.0022,0.0028],"nice":false,"zero":false},"axis":{"orient":"right","values":[-0.002,-0.001,0,0.001,0.002],"labels":false,"title":null}}}}]},
{"width":173,"height":42,"data":{"name":"c1"},"resolve":{"axis":{"x":"independent","y":"independent"}},"layer":[
{"mark":{"type":"errorbar","color":"#7a7a7a","thickness":1,"clip":true},"encoding":{"x":{"field":"t","type":"quantitative","scale":{"domain":[-0.5,118.4],"nice":false,"zero":false},"axis":{"values":[0,20,40,60,80,100],"labels":false,"title":null}},"y":{"field":"y","type":"quantitative","scale":{"domain":[-0.0025,0.0026],"nice":false,"zero":false},"axis":{"values":[-0.002,-0.001,0,0.001,0.002],"labelExpr":"datum.value==0?'0':(datum.value<0?'−':'')+(abs(datum.value)<0.0015?'':format(abs(datum.value)*1000,'.0f')+'×')+'10⁻³'","title":"XIS1"}},"yError":{"field":"e"}}},
{"mark":{"type":"tick","orient":"horizontal","size":1.5,"thickness":1,"opacity":1,"color":"#7a7a7a","clip":true},"encoding":{"x":{"field":"t","type":"quantitative","scale":{"domain":[-0.5,118.4],"nice":false,"zero":false},"axis":{"orient":"top","values":[0,20,40,60,80,100],"labels":false,"title":null}},"y":{"field":"y","type":"quantitative","scale":{"domain":[-0.0025,0.0026],"nice":false,"zero":false},"axis":{"orient":"right","values":[-0.002,-0.001,0,0.001,0.002],"labels":false,"title":null}}}}]},
{"width":173,"height":42,"data":{"name":"c3"},"resolve":{"axis":{"x":"independent","y":"independent"}},"layer":[
{"mark":{"type":"errorbar","color":"#7a7a7a","thickness":1,"clip":true},"encoding":{"x":{"field":"t","type":"quantitative","scale":{"domain":[-0.5,118.4],"nice":false,"zero":false},"axis":{"values":[0,20,40,60,80,100],"labelExpr":"datum.value==0?'0':datum.value==100?'10⁵':datum.value>100?format(datum.value/100,'.1f')+'×10⁵':format(datum.value/10,'d')+'×10⁴'","title":["Time (s)","Start Time 14400 21:28:13.872\u00a0\u00a0\u00a0\u00a0Stop Time 14402\u00a0\u00a05:26:53.872"],"titleLineHeight":8}},"y":{"field":"y","type":"quantitative","scale":{"domain":[-0.0026,0.0022],"nice":false,"zero":false},"axis":{"values":[-0.002,-0.001,0,0.001,0.002],"labelExpr":"datum.value==0?'0':(datum.value<0?'−':'')+(abs(datum.value)<0.0015?'':format(abs(datum.value)*1000,'.0f')+'×')+'10⁻³'","title":"XIS3"}},"yError":{"field":"e"}}},
{"mark":{"type":"tick","orient":"horizontal","size":1.5,"thickness":1,"opacity":1,"color":"#7a7a7a","clip":true},"encoding":{"x":{"field":"t","type":"quantitative","scale":{"domain":[-0.5,118.4],"nice":false,"zero":false},"axis":{"orient":"top","values":[0,20,40,60,80,100],"labels":false,"title":null}},"y":{"field":"y","type":"quantitative","scale":{"domain":[-0.0026,0.0022],"nice":false,"zero":false},"axis":{"orient":"right","values":[-0.002,-0.001,0,0.001,0.002],"labels":false,"title":null}}}}]}
]}
],"spacing":15},
{"hconcat":[
{"title":"3C 105","spacing":0,"bounds":"flush","vconcat":[
{"width":175,"height":40,"data":{"name":"d0"},"resolve":{"axis":{"x":"independent","y":"independent"}},"layer":[
{"mark":{"type":"errorbar","color":"#6e6e6e","thickness":1,"clip":true},"encoding":{"x":{"field":"t","type":"quantitative","scale":{"domain":[-0.3,89.5],"nice":false,"zero":false},"axis":{"values":[0,20,40,60,80],"labels":false,"title":null}},"y":{"field":"y","type":"quantitative","scale":{"domain":[-0.0127,0.025],"nice":false,"zero":false},"axis":{"values":[-0.01,0,0.01,0.02],"format":"~g","title":"XIS0"}},"yError":{"field":"e"}}},
{"mark":{"type":"tick","orient":"horizontal","size":11,"thickness":1,"opacity":1,"color":"#6e6e6e","clip":true},"encoding":{"x":{"field":"t","type":"quantitative","scale":{"domain":[-0.3,89.5],"nice":false,"zero":false},"axis":{"orient":"top","values":[0,20,40,60,80],"labels":false,"title":"Bin time:\u00a0\u00a0\u00a0\u00a05760.\u00a0\u00a0\u00a0\u00a0\u00a0s","titleAnchor":"end","titlePadding":1}},"y":{"field":"y","type":"quantitative","scale":{"domain":[-0.0127,0.025],"nice":false,"zero":false},"axis":{"orient":"right","values":[-0.01,0,0.01,0.02],"labels":false,"title":null}}}}]},
{"width":175,"height":40,"data":{"name":"d1"},"resolve":{"axis":{"x":"independent","y":"independent"}},"layer":[
{"mark":{"type":"errorbar","color":"#6e6e6e","thickness":1,"clip":true},"encoding":{"x":{"field":"t","type":"quantitative","scale":{"domain":[-0.3,89.5],"nice":false,"zero":false},"axis":{"values":[0,20,40,60,80],"labels":false,"title":null}},"y":{"field":"y","type":"quantitative","scale":{"domain":[-0.0114,0.023],"nice":false,"zero":false},"axis":{"values":[-0.01,0,0.01,0.02],"format":"~g","title":"XIS1"}},"yError":{"field":"e"}}},
{"mark":{"type":"tick","orient":"horizontal","size":11,"thickness":1,"opacity":1,"color":"#6e6e6e","clip":true},"encoding":{"x":{"field":"t","type":"quantitative","scale":{"domain":[-0.3,89.5],"nice":false,"zero":false},"axis":{"orient":"top","values":[0,20,40,60,80],"labels":false,"title":null}},"y":{"field":"y","type":"quantitative","scale":{"domain":[-0.0114,0.023],"nice":false,"zero":false},"axis":{"orient":"right","values":[-0.01,0,0.01,0.02],"labels":false,"title":null}}}}]},
{"width":175,"height":40,"data":{"name":"d3"},"resolve":{"axis":{"x":"independent","y":"independent"}},"layer":[
{"mark":{"type":"errorbar","color":"#6e6e6e","thickness":1,"clip":true},"encoding":{"x":{"field":"t","type":"quantitative","scale":{"domain":[-0.3,89.5],"nice":false,"zero":false},"axis":{"values":[0,20,40,60,80],"labelExpr":"datum.value==0?'0':datum.value==100?'10⁵':datum.value>100?format(datum.value/100,'.1f')+'×10⁵':format(datum.value/10,'d')+'×10⁴'","title":["Time (s)","Start Time 14502\u00a0\u00a01:09:36.184\u00a0\u00a0\u00a0\u00a0Stop Time 14503\u00a0\u00a01:49:16.184"],"titleLineHeight":8}},"y":{"field":"y","type":"quantitative","scale":{"domain":[-0.0119,0.0256],"nice":false,"zero":false},"axis":{"values":[-0.01,0,0.01,0.02],"format":"~g","title":"XIS3"}},"yError":{"field":"e"}}},
{"mark":{"type":"tick","orient":"horizontal","size":11,"thickness":1,"opacity":1,"color":"#6e6e6e","clip":true},"encoding":{"x":{"field":"t","type":"quantitative","scale":{"domain":[-0.3,89.5],"nice":false,"zero":false},"axis":{"orient":"top","values":[0,20,40,60,80],"labels":false,"title":null}},"y":{"field":"y","type":"quantitative","scale":{"domain":[-0.0119,0.0256],"nice":false,"zero":false},"axis":{"orient":"right","values":[-0.01,0,0.01,0.02],"labels":false,"title":null}}}}]}
]},
{"title":"SWIFT J0318.7+68","spacing":0,"bounds":"flush","vconcat":[
{"width":171,"height":40,"data":{"name":"e0"},"resolve":{"axis":{"x":"independent","y":"independent"}},"layer":[
{"mark":{"type":"errorbar","color":"#6e6e6e","thickness":1,"clip":true},"encoding":{"x":{"field":"t","type":"quantitative","scale":{"domain":[-0.6,148.5],"nice":false,"zero":false},"axis":{"values":[0,20,40,60,80,100,120,140],"labels":false,"title":null}},"y":{"field":"y","type":"quantitative","scale":{"domain":[-0.006,0.026],"nice":false,"zero":false},"axis":{"values":[-0.005,0,0.005,0.01,0.015,0.02],"labelExpr":"abs(datum.value)==0.005?(datum.value<0?'−':'')+'5×10⁻³':format(datum.value,'~g')","title":"XIS0"}},"yError":{"field":"e"}}},
{"mark":{"type":"tick","orient":"horizontal","size":6.6,"thickness":1,"opacity":1,"color":"#6e6e6e","clip":true},"encoding":{"x":{"field":"t","type":"quantitative","scale":{"domain":[-0.6,148.5],"nice":false,"zero":false},"axis":{"orient":"top","values":[0,20,40,60,80,100,120,140],"labels":false,"title":"Bin time:\u00a0\u00a0\u00a0\u00a05760.\u00a0\u00a0\u00a0\u00a0\u00a0s","titleAnchor":"end","titlePadding":1}},"y":{"field":"y","type":"quantitative","scale":{"domain":[-0.006,0.026],"nice":false,"zero":false},"axis":{"orient":"right","values":[-0.005,0,0.005,0.01,0.015,0.02],"labels":false,"title":null}}}}]},
{"width":171,"height":40,"data":{"name":"e1"},"resolve":{"axis":{"x":"independent","y":"independent"}},"layer":[
{"mark":{"type":"errorbar","color":"#6e6e6e","thickness":1,"clip":true},"encoding":{"x":{"field":"t","type":"quantitative","scale":{"domain":[-0.6,148.5],"nice":false,"zero":false},"axis":{"values":[0,20,40,60,80,100,120,140],"labels":false,"title":null}},"y":{"field":"y","type":"quantitative","scale":{"domain":[-0.006,0.025],"nice":false,"zero":false},"axis":{"values":[-0.005,0,0.005,0.01,0.015,0.02],"labelExpr":"abs(datum.value)==0.005?(datum.value<0?'−':'')+'5×10⁻³':format(datum.value,'~g')","title":"XIS1"}},"yError":{"field":"e"}}},
{"mark":{"type":"tick","orient":"horizontal","size":6.6,"thickness":1,"opacity":1,"color":"#6e6e6e","clip":true},"encoding":{"x":{"field":"t","type":"quantitative","scale":{"domain":[-0.6,148.5],"nice":false,"zero":false},"axis":{"orient":"top","values":[0,20,40,60,80,100,120,140],"labels":false,"title":null}},"y":{"field":"y","type":"quantitative","scale":{"domain":[-0.006,0.025],"nice":false,"zero":false},"axis":{"orient":"right","values":[-0.005,0,0.005,0.01,0.015,0.02],"labels":false,"title":null}}}}]},
{"width":171,"height":40,"data":{"name":"e3"},"resolve":{"axis":{"x":"independent","y":"independent"}},"layer":[
{"mark":{"type":"errorbar","color":"#6e6e6e","thickness":1,"clip":true},"encoding":{"x":{"field":"t","type":"quantitative","scale":{"domain":[-0.6,148.5],"nice":false,"zero":false},"axis":{"values":[0,20,40,60,80,100,120,140],"labelExpr":"datum.value==0?'0':datum.value==100?'10⁵':datum.value>100?format(datum.value/100,'.1f')+'×10⁵':format(datum.value/10,'d')+'×10⁴'","title":["Time (s)","Start Time 14365 11:39:33.184\u00a0\u00a0\u00a0\u00a0Stop Time 14367\u00a0\u00a03:39:38.184"],"titleLineHeight":8}},"y":{"field":"y","type":"quantitative","scale":{"domain":[-0.006,0.025],"nice":false,"zero":false},"axis":{"values":[-0.005,0,0.005,0.01,0.015,0.02],"labelExpr":"abs(datum.value)==0.005?(datum.value<0?'−':'')+'5×10⁻³':format(datum.value,'~g')","title":"XIS3"}},"yError":{"field":"e"}}},
{"mark":{"type":"tick","orient":"horizontal","size":6.6,"thickness":1,"opacity":1,"color":"#6e6e6e","clip":true},"encoding":{"x":{"field":"t","type":"quantitative","scale":{"domain":[-0.6,148.5],"nice":false,"zero":false},"axis":{"orient":"top","values":[0,20,40,60,80,100,120,140],"labels":false,"title":null}},"y":{"field":"y","type":"quantitative","scale":{"domain":[-0.006,0.025],"nice":false,"zero":false},"axis":{"orient":"right","values":[-0.005,0,0.005,0.01,0.015,0.02],"labels":false,"title":null}}}}]}
]},
{"title":"SWIFT J0918.5+0425","spacing":0,"bounds":"flush","vconcat":[
{"width":173,"height":40,"data":{"name":"f0"},"resolve":{"axis":{"x":"independent","y":"independent"}},"layer":[
{"mark":{"type":"errorbar","color":"#6e6e6e","thickness":1,"clip":true},"encoding":{"x":{"field":"t","type":"quantitative","scale":{"domain":[-0.7,118.5],"nice":false,"zero":false},"axis":{"values":[0,20,40,60,80,100],"labels":false,"title":null}},"y":{"field":"y","type":"quantitative","scale":{"domain":[-0.0017,0.004],"nice":false,"zero":false},"axis":{"values":[-0.001,0,0.001,0.002,0.003],"labelExpr":"datum.value==0?'0':(datum.value<0?'−':'')+(abs(datum.value)<0.0015?'':format(abs(datum.value)*1000,'.0f')+'×')+'10⁻³'","title":"XIS0"}},"yError":{"field":"e"}}},
{"mark":{"type":"tick","orient":"horizontal","size":8.4,"thickness":1,"opacity":1,"color":"#6e6e6e","clip":true},"encoding":{"x":{"field":"t","type":"quantitative","scale":{"domain":[-0.7,118.5],"nice":false,"zero":false},"axis":{"orient":"top","values":[0,20,40,60,80,100],"labels":false,"title":"Bin time:\u00a0\u00a0\u00a0\u00a05760.\u00a0\u00a0\u00a0\u00a0\u00a0s","titleAnchor":"end","titlePadding":1}},"y":{"field":"y","type":"quantitative","scale":{"domain":[-0.0017,0.004],"nice":false,"zero":false},"axis":{"orient":"right","values":[-0.001,0,0.001,0.002,0.003],"labels":false,"title":null}}}}]},
{"width":173,"height":40,"data":{"name":"f1"},"resolve":{"axis":{"x":"independent","y":"independent"}},"layer":[
{"mark":{"type":"errorbar","color":"#6e6e6e","thickness":1,"clip":true},"encoding":{"x":{"field":"t","type":"quantitative","scale":{"domain":[-0.7,118.5],"nice":false,"zero":false},"axis":{"values":[0,20,40,60,80,100],"labels":false,"title":null}},"y":{"field":"y","type":"quantitative","scale":{"domain":[-0.0016,0.004],"nice":false,"zero":false},"axis":{"values":[-0.001,0,0.001,0.002,0.003],"labelExpr":"datum.value==0?'0':(datum.value<0?'−':'')+(abs(datum.value)<0.0015?'':format(abs(datum.value)*1000,'.0f')+'×')+'10⁻³'","title":"XIS1"}},"yError":{"field":"e"}}},
{"mark":{"type":"tick","orient":"horizontal","size":8.4,"thickness":1,"opacity":1,"color":"#6e6e6e","clip":true},"encoding":{"x":{"field":"t","type":"quantitative","scale":{"domain":[-0.7,118.5],"nice":false,"zero":false},"axis":{"orient":"top","values":[0,20,40,60,80,100],"labels":false,"title":null}},"y":{"field":"y","type":"quantitative","scale":{"domain":[-0.0016,0.004],"nice":false,"zero":false},"axis":{"orient":"right","values":[-0.001,0,0.001,0.002,0.003],"labels":false,"title":null}}}}]},
{"width":173,"height":40,"data":{"name":"f3"},"resolve":{"axis":{"x":"independent","y":"independent"}},"layer":[
{"mark":{"type":"errorbar","color":"#6e6e6e","thickness":1,"clip":true},"encoding":{"x":{"field":"t","type":"quantitative","scale":{"domain":[-0.7,118.5],"nice":false,"zero":false},"axis":{"values":[0,20,40,60,80,100],"labelExpr":"datum.value==0?'0':datum.value==100?'10⁵':datum.value>100?format(datum.value/100,'.1f')+'×10⁵':format(datum.value/10,'d')+'×10⁴'","title":["Time (s)","Start Time 14400 20:09:53.872\u00a0\u00a0\u00a0\u00a0Stop Time 14402\u00a0\u00a06:09:53.872"],"titleLineHeight":8}},"y":{"field":"y","type":"quantitative","scale":{"domain":[-0.0015,0.0041],"nice":false,"zero":false},"axis":{"values":[-0.001,0,0.001,0.002,0.003],"labelExpr":"datum.value==0?'0':(datum.value<0?'−':'')+(abs(datum.value)<0.0015?'':format(abs(datum.value)*1000,'.0f')+'×')+'10⁻³'","title":"XIS3"}},"yError":{"field":"e"}}},
{"mark":{"type":"tick","orient":"horizontal","size":8.4,"thickness":1,"opacity":1,"color":"#6e6e6e","clip":true},"encoding":{"x":{"field":"t","type":"quantitative","scale":{"domain":[-0.7,118.5],"nice":false,"zero":false},"axis":{"orient":"top","values":[0,20,40,60,80,100],"labels":false,"title":null}},"y":{"field":"y","type":"quantitative","scale":{"domain":[-0.0015,0.0041],"nice":false,"zero":false},"axis":{"orient":"right","values":[-0.001,0,0.001,0.002,0.003],"labels":false,"title":null}}}}]}
]}
],"spacing":15}
],
"spacing":4
}
